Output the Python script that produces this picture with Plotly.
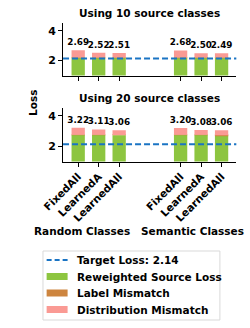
import plotly.graph_objects as go
from plotly.subplots import make_subplots

methods = ["FixedAll", "LearnedA", "LearnedAll"]
groups = ["Random Classes", "Semantic Classes"]
positions = [0, 1, 2, 5, 6, 7]
tick_labels = methods + methods
panel_titles = ["Using 10 source classes", "Using 20 source classes"]

target_loss = 2.14

# per panel: 6 bars (Random x3, Semantic x3)
reweighted = [
    [2.20, 2.20, 2.20, 2.20, 2.20, 2.20],
    [2.75, 2.75, 2.73, 2.75, 2.75, 2.72],
]
label_mismatch = [
    [0.01, 0.01, 0.01, 0.01, 0.01, 0.01],
    [0.01, 0.01, 0.01, 0.01, 0.01, 0.01],
]
totals = [
    [2.69, 2.52, 2.51, 2.68, 2.50, 2.49],
    [3.22, 3.11, 3.06, 3.20, 3.08, 3.06],
]
legend_names = [f"Target Loss: {target_loss}", "Reweighted Source Loss",
                "Label Mismatch", "Distribution Mismatch"]

GREEN = "#8dc540"
ORANGE = "#cd853f"
PINK = "#fa9a94"
BLUE = "#1a74c4"
FONT = "DejaVu Sans"

fig = make_subplots(rows=2, cols=1, shared_xaxes=False)

for r in range(2):
    rw = reweighted[r]
    lm = label_mismatch[r]
    dm = [t - a - b for t, a, b in zip(totals[r], rw, lm)]
    base2 = [a + b for a, b in zip(rw, lm)]
    fig.add_trace(go.Bar(x=positions, y=rw, marker_color=GREEN, width=0.65,
                         marker_line_width=0, showlegend=False,
                         name=legend_names[1]), row=r + 1, col=1)
    fig.add_trace(go.Bar(x=positions, y=lm, base=rw, marker_color=ORANGE, width=0.65,
                         marker_line_width=0, showlegend=False,
                         name=legend_names[2]), row=r + 1, col=1)
    fig.add_trace(go.Bar(x=positions, y=dm, base=base2, marker_color=PINK, width=0.65,
                         marker_line_width=0, showlegend=False, name=legend_names[3],
                         text=[f"{t:.2f}" for t in totals[r]], textposition="outside",
                         cliponaxis=False, constraintext="none",
                         textfont=dict(family=FONT, size=8.8, color="black", weight="bold")),
                  row=r + 1, col=1)
    fig.add_hline(y=target_loss, line=dict(color=BLUE, width=2, dash="6px,3px"),
                  row=r + 1, col=1)

H = 328.0
W = 250.0
doms = [[1 - 75.5 / H, 1 - 23.3 / H], [1 - 161.5 / H, 1 - 108.3 / H]]
for i, ax in enumerate(["", "2"]):
    fig.layout["xaxis" + ax].update(
        domain=[45 / W, 235 / W], range=[-0.74, 7.72],
        tickvals=positions, ticktext=tick_labels if i == 1 else [""] * 6,
        showticklabels=(i == 1), tickangle=-45,
        ticks="outside", ticklen=4, tickcolor="black", showline=True,
        linecolor="black", linewidth=1, showgrid=False, zeroline=False,
        tickfont=dict(family=FONT, size=10.5, color="black", weight="bold"))
    fig.layout["yaxis" + ax].update(
        domain=doms[i], range=[1, 4.5], tickvals=[2, 4],
        ticks="outside", ticklen=4, tickcolor="black", showline=True,
        linecolor="black", linewidth=1, showgrid=False, zeroline=False,
        tickfont=dict(family=FONT, size=11, color="black", weight="bold"))

ann_font = dict(family=FONT, size=10.5, color="black", weight="bold")
annotations = [
    dict(text=panel_titles[0], x=140 / W, y=1 - 13 / H),
    dict(text=panel_titles[1], x=140 / W, y=1 - 97.5 / H),
    dict(text="Loss", x=12 / W, y=1 - 103 / H, textangle=-90),
    dict(text=groups[0], x=66 / W, y=1 - 231 / H),
    dict(text=groups[1], x=186.5 / W, y=1 - 231 / H),
]
for a in annotations:
    a.update(xref="paper", yref="paper", showarrow=False, font=ann_font,
             xanchor="center", yanchor="middle")

# hand-drawn legend (matplotlib style: wide patches, compact rows)
shapes = [dict(type="rect", xref="paper", yref="paper", x0=23 / W, x1=217 / W,
               y0=1 - 320 / H, y1=1 - 251 / H, line=dict(color="#d9d9d9", width=1),
               fillcolor="white", layer="above")]
row_y = [260, 276.5, 293, 309.5]
shapes.append(dict(type="line", xref="paper", yref="paper", x0=27 / W, x1=50 / W,
                   y0=1 - row_y[0] / H, y1=1 - row_y[0] / H,
                   line=dict(color=BLUE, width=2, dash="5px,3px"), layer="above"))
for yc, col in zip(row_y[1:], [GREEN, ORANGE, PINK]):
    shapes.append(dict(type="rect", xref="paper", yref="paper", x0=27 / W, x1=50 / W,
                       y0=1 - (yc + 3.5) / H, y1=1 - (yc - 3.5) / H,
                       line=dict(width=0), fillcolor=col, layer="above"))
for yc, name in zip(row_y, legend_names):
    annotations.append(dict(text=name, x=58 / W, y=1 - yc / H, xref="paper",
                            yref="paper", showarrow=False, font=ann_font,
                            xanchor="left", yanchor="middle"))

fig.update_layout(
    width=250, height=328, margin=dict(l=0, r=0, t=0, b=0),
    plot_bgcolor="white", paper_bgcolor="white", barmode="overlay",
    annotations=annotations, showlegend=False,
)
for s in shapes:
    fig.add_shape(**s)

fig.write_html("out.html", config={"displayModeBar": False},
               post_script="document.body.style.margin='0';document.body.style.padding='0';")
